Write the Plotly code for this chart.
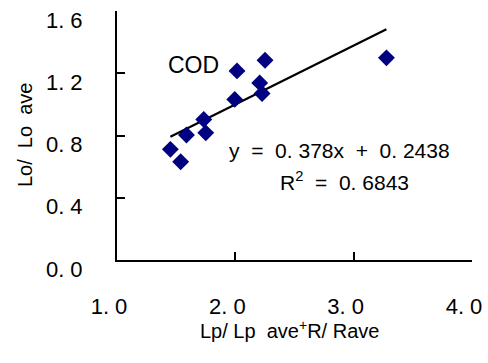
import plotly.graph_objects as go

# data
x_vals = [1.451, 1.538, 1.587, 1.733, 1.750, 1.995, 2.014, 2.206, 2.226, 2.251, 3.277]
y_vals = [0.711, 0.631, 0.803, 0.903, 0.817, 1.032, 1.215, 1.138, 1.070, 1.284, 1.299]
slope = 0.378
intercept = 0.2438
x_ticks = [1.0, 2.0, 3.0, 4.0]
x_ticktext = ["1. 0", "2. 0", "3. 0", "4. 0"]
y_ticks = [0.0, 0.4, 0.8, 1.2, 1.6]
y_ticktext = ["0. 0", "0. 4", "0. 8", "1. 2", "1. 6"]

FONT = "Liberation Sans, Arial, sans-serif"

x_line = [min(x_vals), max(x_vals)]
y_line = [slope * v + intercept for v in x_line]

fig = go.Figure()
fig.add_trace(go.Scatter(x=x_line, y=y_line, mode="lines",
                         line=dict(color="black", width=2.2), showlegend=False))
fig.add_trace(go.Scatter(x=x_vals, y=y_vals, mode="markers",
                         marker=dict(symbol="diamond", size=13, color="#000080",
                                     line=dict(width=0)),
                         showlegend=False))

fig.update_layout(
    width=488, height=363,
    margin=dict(l=117, r=16, t=11, b=103),
    paper_bgcolor="white", plot_bgcolor="white",
    font=dict(family=FONT, color="black"),
    xaxis=dict(range=[1.0, 4.0], tickvals=x_ticks, ticktext=x_ticktext,
               showgrid=False, zeroline=False, showline=True, linecolor="black",
               linewidth=2, ticks="inside", ticklen=8, tickwidth=2, tickcolor="black",
               tickfont=dict(size=22, family=FONT), ticklabelstandoff=26,
               ticklabelshift=-8, automargin=False, ticklabeloverflow="allow"),
    yaxis=dict(range=[0.0, 1.6], tickvals=y_ticks, ticktext=y_ticktext,
               showgrid=False, zeroline=False, showline=True, linecolor="black",
               linewidth=2, ticks="inside", ticklen=8, tickwidth=2, tickcolor="black",
               tickfont=dict(size=22, family=FONT), ticklabelstandoff=28,
               ticklabelshift=9, automargin=False, ticklabeloverflow="allow"),
    annotations=[
        dict(text="Lp/ Lp  ave<sup>+</sup>R/ Rave", xref="paper", yref="paper",
             x=0.487, y=-0.281, showarrow=False, font=dict(size=20, family=FONT),
             xanchor="center", yanchor="middle"),
        dict(text="Lo/  Lo  ave", xref="paper", yref="paper", textangle=-90,
             x=-0.259, y=0.502, showarrow=False, font=dict(size=20, family=FONT),
             xanchor="center", yanchor="middle"),
        dict(text="COD", xref="paper", yref="paper",
             x=(193 - 117) / 355, y=(260 - 65) / 249, showarrow=False,
             font=dict(size=23, family=FONT), xanchor="center", yanchor="middle"),
        dict(text="y  =  0. 378x  +  0. 2438", xref="paper", yref="paper",
             x=(227 - 117) / 355, y=(260 - 150) / 249, showarrow=False,
             font=dict(size=21, family=FONT), xanchor="left", yanchor="middle"),
        dict(text="R<sup>2</sup>  =  0. 6843", xref="paper", yref="paper",
             x=(278 - 117) / 355, y=(260 - 181) / 249, showarrow=False,
             font=dict(size=21, family=FONT), xanchor="left", yanchor="middle"),
    ],
)

fig.write_html("out.html",
               config={"displayModeBar": False},
               post_script="document.body.style.margin='0';document.body.style.overflow='hidden';")
